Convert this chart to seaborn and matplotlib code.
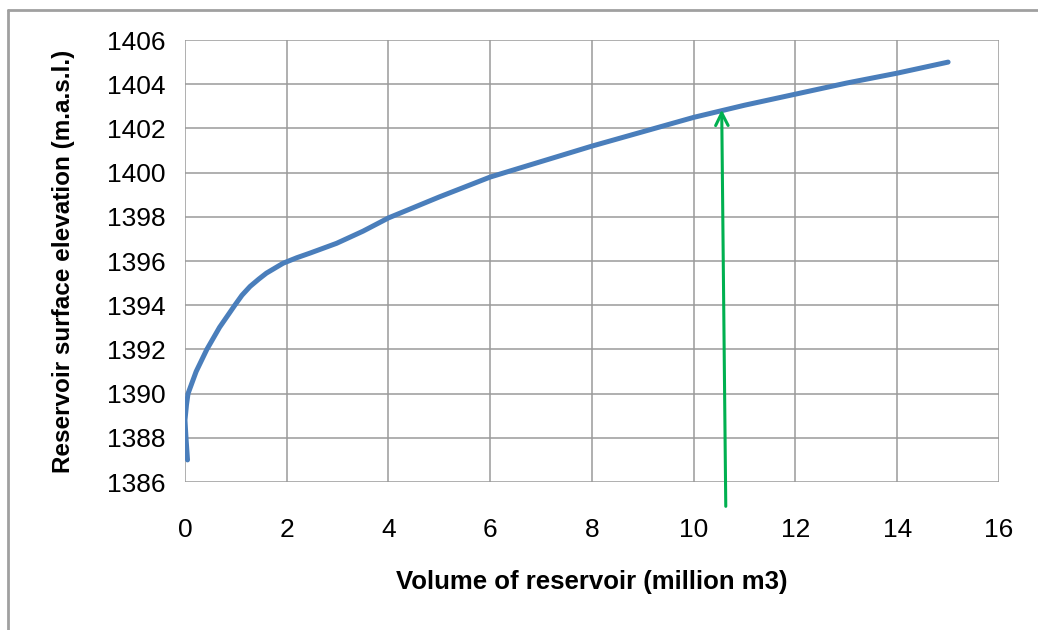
"""
Reservoir elevation-volume curve (Excel style)
"""

import pandas as pd
import matplotlib.pyplot as plt
from matplotlib.lines import Line2D
import seaborn as sns

# =============================================================================
# DATA
# =============================================================================
volume = [0.05, 0.02, 0.0, 0.03, 0.06, 0.22, 0.43, 0.68, 0.98, 1.12, 1.28,
          1.45, 1.6, 1.93, 2.2, 2.46, 2.98, 3.5, 4.0, 5.0, 6.0, 7.0, 8.0, 9.0,
          10.0, 11.0, 12.0, 13.0, 14.0, 15.0]
elevation = [1387.0, 1388.0, 1388.8, 1389.5, 1390.0, 1391.0, 1392.0, 1393.0,
             1394.0, 1394.45, 1394.85, 1395.18, 1395.45, 1395.9, 1396.15,
             1396.36, 1396.8, 1397.35, 1397.95, 1398.9, 1399.8, 1400.5, 1401.2,
             1401.85, 1402.5, 1403.05, 1403.55, 1404.05, 1404.5, 1405.0]

x_ticks = list(range(0, 17, 2))
y_ticks = list(range(1386, 1407, 2))

# arrow: reading of the volume for the target elevation
arrow_tail = (10.63, 1384.9)
arrow_head = (10.55, 1402.85)

# =============================================================================
# PLOT
# =============================================================================
sns.set_style("white")
plt.rcParams["font.family"] = ["Liberation Sans", "DejaVu Sans"]

df = pd.DataFrame({"volume": volume, "elevation": elevation})

fig = plt.figure(figsize=(10.38, 6.3), dpi=100)
ax = fig.add_axes([0.1782, 0.2349, 0.7842, 0.7016])

grid_col = "#9a9a9a"
sns.lineplot(data=df, x="volume", y="elevation", sort=False, estimator=None,
             color="#4A7EBB", linewidth=3.6, ax=ax, zorder=3)

ax.set_xlim(0, 16)
ax.set_ylim(1386, 1406)
ax.set_xticks(x_ticks)
ax.set_yticks(y_ticks)
ax.grid(True, color=grid_col, linewidth=1.1)
ax.set_axisbelow(True)
for side in ax.spines.values():
    side.set_visible(False)
ax.tick_params(axis="both", which="both", direction="out", length=10, width=1.1,
               color=grid_col, labelsize=19, labelcolor="black", pad=4)
ax.tick_params(axis="x", pad=16)

ax.set_xlabel("Volume of reservoir (million m3)", fontsize=18.5,
              fontweight="bold", color="black", labelpad=20)
ax.set_ylabel("Reservoir surface elevation (m.a.s.l.)", fontsize=17.5,
              fontweight="bold", color="black", labelpad=23)

ax.annotate("", xy=arrow_head, xytext=arrow_tail, annotation_clip=False,
            arrowprops=dict(arrowstyle="->,head_length=0.9,head_width=0.45",
                            color="#00B050", lw=2.2, shrinkA=0, shrinkB=0),
            zorder=4)

# outer frame (left and top edges only, as in the screenshot)
fig.add_artist(Line2D([0.008, 0.008], [0.984, 0.0], color="#a0a0a0", lw=2))
fig.add_artist(Line2D([0.008, 1.0], [0.984, 0.984], color="#a0a0a0", lw=2))

fig.savefig("out.png", dpi=100)
